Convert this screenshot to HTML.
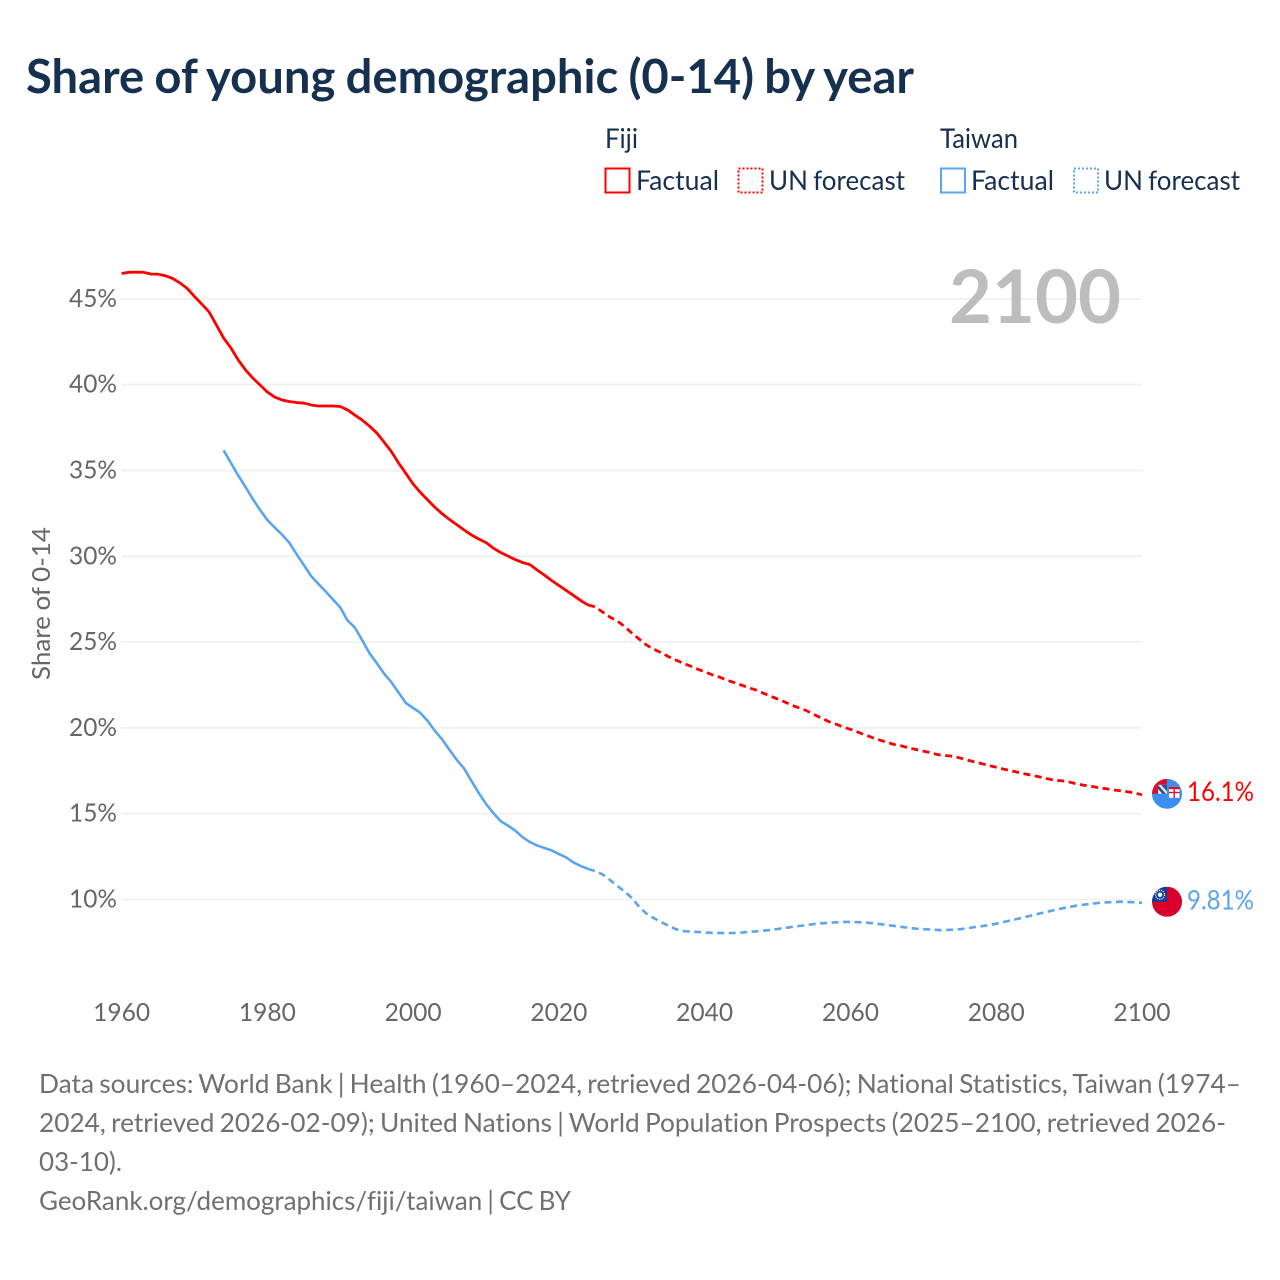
<!DOCTYPE html>
<html lang="en">
<head>
<meta charset="utf-8">
<title>Share of young demographic (0-14) by year</title>
<style>
html,body{margin:0;padding:0;background:#fff;}
svg{display:block;}
text{font-family:"Lato","Carlito","Liberation Sans",sans-serif;font-variant-ligatures:none;}
</style>
</head>
<body>
<svg id="chart" xmlns="http://www.w3.org/2000/svg" width="1280" height="1280" viewBox="0 0 1280 1280">
  <rect x="0" y="0" width="1280" height="1280" fill="#fff"/>
  <text x="26" y="93" font-size="47" font-weight="700" fill="#16304f" word-spacing="-1.2" textLength="888" lengthAdjust="spacingAndGlyphs">Share of young demographic (0-14) by year</text>

  <g font-size="27.5" fill="#16304f" word-spacing="-1.5">
    <text x="605" y="148" textLength="33" lengthAdjust="spacingAndGlyphs">Fiji</text>
    <rect x="605.5" y="168.5" width="24" height="24" fill="none" stroke="#ff0000" stroke-width="2"/>
    <text x="636" y="190" textLength="83" lengthAdjust="spacingAndGlyphs">Factual</text>
    <rect x="738.5" y="168.5" width="24" height="24" fill="none" stroke="#ff0000" stroke-width="2" stroke-dasharray="2 2"/>
    <text x="769" y="190" textLength="136" lengthAdjust="spacingAndGlyphs">UN forecast</text>
    <text x="940" y="148" textLength="78" lengthAdjust="spacingAndGlyphs">Taiwan</text>
    <rect x="941" y="168.5" width="24" height="24" fill="none" stroke="#5aa5ee" stroke-width="2"/>
    <text x="971" y="190" textLength="83" lengthAdjust="spacingAndGlyphs">Factual</text>
    <rect x="1074" y="168.5" width="24" height="24" fill="none" stroke="#5aa5ee" stroke-width="2" stroke-dasharray="2 2"/>
    <text x="1104" y="190" textLength="136" lengthAdjust="spacingAndGlyphs">UN forecast</text>
  </g>

  <g id="grid"></g>
  <g id="yticks" font-size="25" fill="#666"></g>
  <g id="xticks" font-size="25" fill="#666"></g>
  <text transform="translate(50,680) rotate(-90)" font-size="25" fill="#666" word-spacing="-1" textLength="153" lengthAdjust="spacingAndGlyphs">Share of 0-14</text>
  <text x="949" y="323" font-size="74" font-weight="700" fill="#bdbdbd" textLength="172" lengthAdjust="spacingAndGlyphs">2100</text>

  <g id="series"></g>

  <defs>
    <clipPath id="flag-clip"><circle cx="0" cy="0" r="15"/></clipPath>
  </defs>

  <g id="flag-fiji">
    <g clip-path="url(#flag-clip)">
      <rect x="-15" y="-15" width="30" height="30" fill="#3a8ff0"/>
      <rect x="-15" y="-15" width="15" height="15" fill="#d8102c"/>
      <rect x="-9" y="-9" width="9" height="9" fill="#e8e8f2"/>
      <path d="M-9 -9 L-1 0 L-4.5 0 L-9 -5 Z" fill="#2b4f9e"/>
      <path d="M-6 -9 L0 -9 L0 -2.5 Z" fill="#2b4f9e"/>
      <rect x="2" y="-7" width="10.5" height="11" fill="#fff"/>
      <rect x="2" y="-7" width="10.5" height="2.4" fill="#d8102c"/>
      <rect x="6.5" y="-4.6" width="1.4" height="8.6" fill="#d8102c"/>
      <rect x="2" y="-2" width="10.5" height="1.4" fill="#d8102c"/>
    </g>
  </g>
  <g id="flag-taiwan">
    <g clip-path="url(#flag-clip)">
      <rect x="-15" y="-15" width="30" height="30" fill="#d8002a"/>
      <rect x="-15" y="-15" width="15" height="15" fill="#0d3f9e"/>
      <circle cx="-7" cy="-7" r="4.5" fill="none" stroke="#fff" stroke-width="1.2" stroke-dasharray="1.2 1"/>
      <circle cx="-7" cy="-7" r="2.2" fill="#fff"/>
    </g>
  </g>
  <text id="value-fiji" x="1187" font-size="27" fill="#ff0000" textLength="67" lengthAdjust="spacingAndGlyphs"></text>
  <text id="value-taiwan" x="1187" font-size="27" fill="#5aa5ee" textLength="67" lengthAdjust="spacingAndGlyphs"></text>

  <g font-size="26.5" fill="#707070" word-spacing="-1.5">
    <text x="39" y="1093" textLength="1202" lengthAdjust="spacingAndGlyphs">Data sources: World Bank | Health (1960–2024, retrieved 2026-04-06); National Statistics, Taiwan (1974–</text>
    <text x="39" y="1132" textLength="1187" lengthAdjust="spacingAndGlyphs">2024, retrieved 2026-02-09); United Nations | World Population Prospects (2025–2100, retrieved 2026-</text>
    <text x="39" y="1171" textLength="83" lengthAdjust="spacingAndGlyphs">03-10).</text>
    <text x="39" y="1210" textLength="532" lengthAdjust="spacingAndGlyphs">GeoRank.org/demographics/fiji/taiwan | CC BY</text>
  </g>
</svg>

<script>
const fijiFactualStart = 1960;
const fijiFactual = [46.48,46.55,46.56,46.55,46.45,46.44,46.35,46.19,45.93,45.61,45.14,44.70,44.24,43.48,42.72,42.14,41.44,40.86,40.39,39.98,39.57,39.28,39.11,39.02,38.96,38.93,38.82,38.76,38.76,38.76,38.73,38.53,38.23,37.94,37.59,37.19,36.66,36.11,35.44,34.83,34.21,33.72,33.28,32.85,32.47,32.14,31.84,31.53,31.24,31.01,30.80,30.48,30.22,30.02,29.81,29.64,29.52,29.20,28.91,28.59,28.30,28.01,27.72,27.42,27.16];
const fijiForecastStart = 2024;
const fijiForecast = [27.16,27.05,26.75,26.46,26.23,25.91,25.53,25.18,24.83,24.60,24.39,24.16,23.96,23.78,23.61,23.43,23.27,23.10,22.97,22.79,22.65,22.50,22.35,22.21,22.03,21.86,21.68,21.51,21.31,21.16,21.00,20.78,20.58,20.37,20.22,20.05,19.92,19.76,19.59,19.44,19.29,19.16,19.03,18.95,18.83,18.74,18.65,18.55,18.44,18.39,18.35,18.25,18.13,18.02,17.92,17.81,17.71,17.60,17.51,17.41,17.31,17.23,17.14,17.04,16.95,16.92,16.85,16.74,16.66,16.60,16.52,16.46,16.39,16.34,16.28,16.21,16.10];
const taiwanFactualStart = 1974;
const taiwanFactual = [36.17,35.44,34.71,34.04,33.34,32.70,32.12,31.68,31.27,30.80,30.13,29.49,28.85,28.39,27.95,27.48,27.02,26.26,25.85,25.12,24.36,23.78,23.17,22.67,22.06,21.45,21.16,20.87,20.40,19.82,19.32,18.71,18.13,17.63,16.91,16.21,15.57,15.04,14.57,14.31,14.02,13.64,13.35,13.15,13.00,12.86,12.65,12.45,12.16,11.95,11.78];
const taiwanForecastStart = 2024;
const taiwanForecast = [11.78,11.66,11.46,11.14,10.79,10.47,10.09,9.59,9.18,8.92,8.69,8.48,8.28,8.16,8.13,8.11,8.08,8.06,8.05,8.04,8.05,8.07,8.11,8.14,8.18,8.22,8.28,8.34,8.40,8.46,8.51,8.57,8.61,8.64,8.67,8.69,8.69,8.68,8.66,8.62,8.57,8.51,8.46,8.40,8.35,8.30,8.27,8.25,8.22,8.22,8.24,8.27,8.32,8.39,8.44,8.51,8.59,8.69,8.78,8.88,8.98,9.09,9.19,9.29,9.39,9.48,9.56,9.64,9.70,9.75,9.80,9.83,9.85,9.87,9.85,9.84,9.81];
const yTickValues = [10,15,20,25,30,35,40,45];
const xTickYears = [1960,1980,2000,2020,2040,2060,2080,2100];
const fijiEndLabel = "16.1%";
const taiwanEndLabel = "9.81%";

const NS = "http://www.w3.org/2000/svg";
const xScale = function (year) { return 121.6 + (year - 1960) * (1142 - 121.6) / 140; };
const yScale = function (value) { return 899.5 - (value - 10) * 17.16; };

const gridGroup = document.getElementById("grid");
const yTickGroup = document.getElementById("yticks");
const xTickGroup = document.getElementById("xticks");
const seriesGroup = document.getElementById("series");

yTickValues.forEach(function (v) {
  const line = document.createElementNS(NS, "line");
  
  
  line.setAttribute("x1", 121);
  line.setAttribute("x2", 1142);
  line.setAttribute("y1", yScale(v));
  line.setAttribute("y2", yScale(v));
  line.setAttribute("stroke", "#f0f0f0");
  line.setAttribute("stroke-width", "1.8");
  gridGroup.appendChild(line);

  const label = document.createElementNS(NS, "text");
  
  
  label.setAttribute("x", 69);
  label.setAttribute("y", yScale(v) + 8);
  label.setAttribute("textLength", 48);
  label.setAttribute("lengthAdjust", "spacingAndGlyphs");
  label.textContent = v + "%";
  yTickGroup.appendChild(label);
});

xTickYears.forEach(function (year) {
  const label = document.createElementNS(NS, "text");
  
  
  label.setAttribute("x", xScale(year) - 28.5);
  label.setAttribute("y", 1021);
  label.setAttribute("textLength", 57);
  label.setAttribute("lengthAdjust", "spacingAndGlyphs");
  label.textContent = year;
  xTickGroup.appendChild(label);
});

function linePath(startYear, values) {
  return values.map(function (v, i) {
    return (i ? "L" : "M") + xScale(startYear + i).toFixed(2) + " " + yScale(v).toFixed(2);
  }).join(" ");
}

const fijiFactualLine = document.createElementNS(NS, "path");


fijiFactualLine.setAttribute("d", linePath(fijiFactualStart, fijiFactual));
fijiFactualLine.setAttribute("fill", "none");
fijiFactualLine.setAttribute("stroke", "#ff0000");
fijiFactualLine.setAttribute("stroke-width", "2.8");
fijiFactualLine.setAttribute("stroke-linejoin", "round");
seriesGroup.appendChild(fijiFactualLine);

const fijiForecastLine = document.createElementNS(NS, "path");


fijiForecastLine.setAttribute("d", linePath(fijiForecastStart, fijiForecast));
fijiForecastLine.setAttribute("fill", "none");
fijiForecastLine.setAttribute("stroke", "#ff0000");
fijiForecastLine.setAttribute("stroke-width", "2.8");
fijiForecastLine.setAttribute("stroke-dasharray", "7 4.5");
seriesGroup.appendChild(fijiForecastLine);

const taiwanFactualLine = document.createElementNS(NS, "path");


taiwanFactualLine.setAttribute("d", linePath(taiwanFactualStart, taiwanFactual));
taiwanFactualLine.setAttribute("fill", "none");
taiwanFactualLine.setAttribute("stroke", "#5aa5ee");
taiwanFactualLine.setAttribute("stroke-width", "2.6");
taiwanFactualLine.setAttribute("stroke-linejoin", "round");
seriesGroup.appendChild(taiwanFactualLine);

const taiwanForecastLine = document.createElementNS(NS, "path");


taiwanForecastLine.setAttribute("d", linePath(taiwanForecastStart, taiwanForecast));
taiwanForecastLine.setAttribute("fill", "none");
taiwanForecastLine.setAttribute("stroke", "#5aa5ee");
taiwanForecastLine.setAttribute("stroke-width", "2.6");
taiwanForecastLine.setAttribute("stroke-dasharray", "7 4.5");
seriesGroup.appendChild(taiwanForecastLine);

const fijiLast = fijiForecast[fijiForecast.length - 1];
const taiwanLast = taiwanForecast[taiwanForecast.length - 1];
document.getElementById("flag-fiji").setAttribute("transform", "translate(1167," + (yScale(fijiLast) - 1) + ")");
document.getElementById("flag-taiwan").setAttribute("transform", "translate(1167," + (yScale(taiwanLast) - 1) + ")");
const fijiValue = document.getElementById("value-fiji");
fijiValue.setAttribute("y", yScale(fijiLast) + 6);
fijiValue.textContent = fijiEndLabel;
const taiwanValue = document.getElementById("value-taiwan");
taiwanValue.setAttribute("y", yScale(taiwanLast) + 6.5);
taiwanValue.textContent = taiwanEndLabel;
</script>
</body>
</html>
